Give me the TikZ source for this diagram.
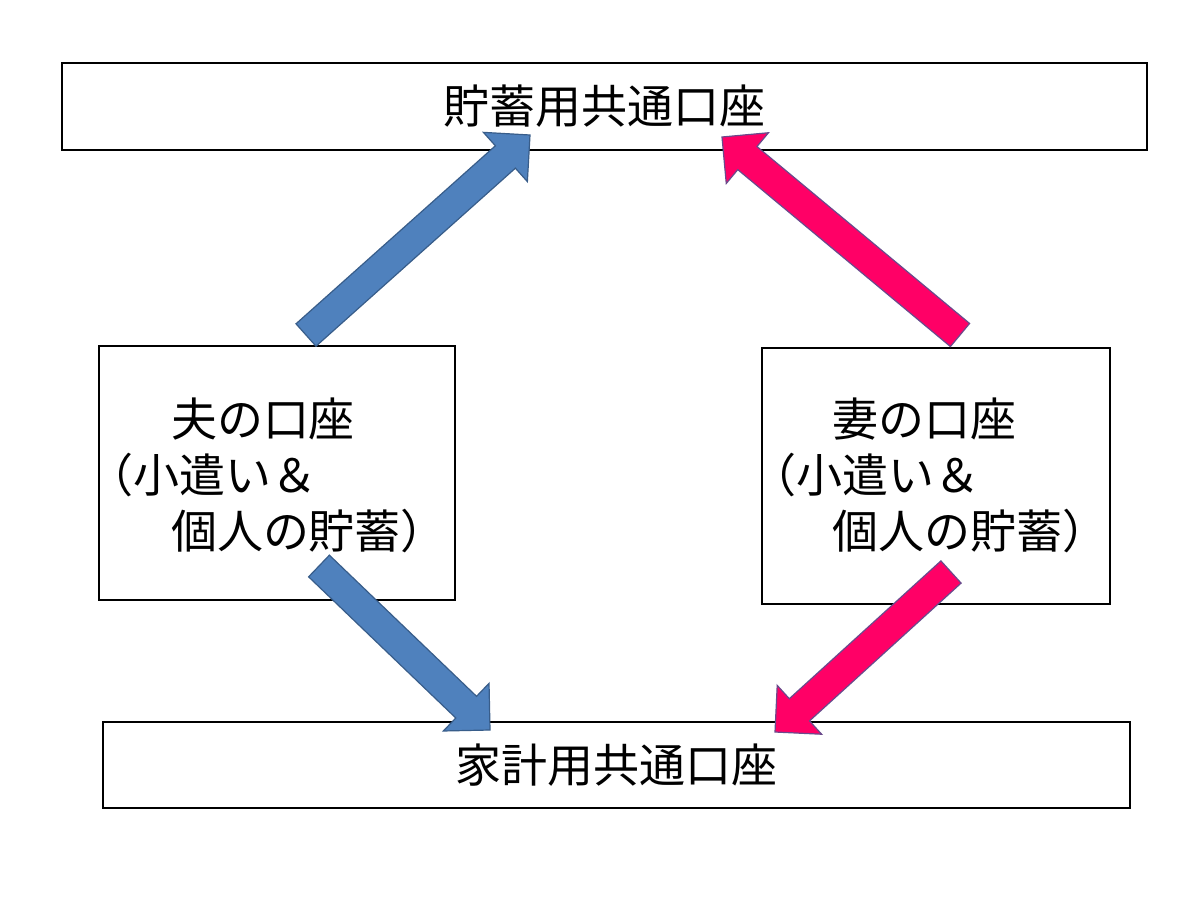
\documentclass[tikz,border=0pt]{standalone}
\usepackage{fontspec}
\setmainfont{Noto Sans CJK JP}
\usetikzlibrary{calc}
\definecolor{bluefill}{HTML}{4F81BD}
\definecolor{blueline}{HTML}{385D8A}
\definecolor{pinkfill}{HTML}{FF0066}
\definecolor{pinkline}{HTML}{6A4A8C}
\tikzset{
  box/.style={draw=black, line width=2.4pt, fill=white, inner sep=0pt},
  jtext/.style={font=\fontsize{46}{56}\selectfont, inner sep=0pt},
  bluearrow/.style={fill=bluefill, draw=blueline, line width=1.2pt, line join=miter},
  pinkarrow/.style={fill=pinkfill, draw=pinkline, line width=1.2pt, line join=miter},
}
\newcommand\fatarr[3]{%
  \coordinate (fa-h) at ($(#3)!33pt!(#2)$);
  \draw[#1] ($(#2)!15pt!90:(#3)$) -- ($(fa-h)!15pt!90:(#3)$) -- ($(fa-h)!33pt!90:(#3)$)
    -- (#3) -- ($(fa-h)!33pt!-90:(#3)$) -- ($(fa-h)!15pt!-90:(#3)$)
    -- ($(#2)!15pt!-90:(#3)$) -- cycle;}
\begin{document}
\begin{tikzpicture}[x=1pt,y=1pt]
\useasboundingbox[fill=white] (0,0) rectangle (1200,-900);
% boxes
\node[box, jtext, minimum width=1085pt, minimum height=87pt] (save) at (604.5,-106.5) {貯蓄用共通口座};
\node[box, jtext, minimum width=1027pt, minimum height=86pt] (home) at (616.5,-765) {家計用共通口座};
\node[box, minimum width=356pt, minimum height=254pt] (husband) at (277,-473) {};
\node[box, minimum width=348pt, minimum height=256pt] (wife) at (936,-476) {};
\node[jtext, align=left] (htext) at (267,-475) {\hspace*{84pt}夫の口座\\（小遣い＆\\\hspace*{84pt}個人の貯蓄）};
\node[jtext, align=left] (wtext) at (929,-475) {\hspace*{82pt}妻の口座\\（小遣い＆\\\hspace*{82pt}個人の貯蓄）};
% arrow end points
\coordinate (b1t) at (306,-335);
\coordinate (b1h) at (530,-135);
\coordinate (p1t) at (960,-335);
\coordinate (p1h) at (722,-137);
\coordinate (b2t) at (319,-566);
\coordinate (b2h) at (490,-730);
\coordinate (p2t) at (951,-572);
\coordinate (p2h) at (775,-732);
\fatarr{bluearrow}{b1t}{b1h}
\fatarr{pinkarrow}{p1t}{p1h}
\fatarr{bluearrow}{b2t}{b2h}
\fatarr{pinkarrow}{p2t}{p2h}
\end{tikzpicture}
\end{document}
